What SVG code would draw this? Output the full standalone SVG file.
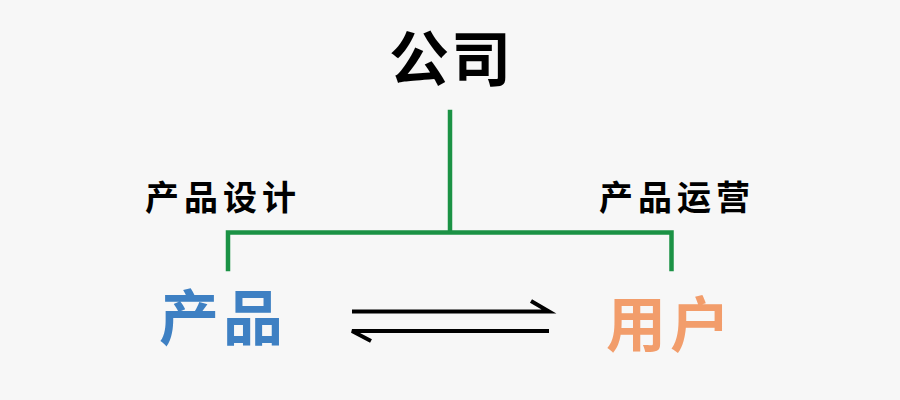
<svg xmlns="http://www.w3.org/2000/svg" width="900" height="400" viewBox="0 0 900 400">
<style>
.t{font-family:"Noto Sans CJK SC","Noto Sans",sans-serif;font-weight:bold;text-anchor:middle}
.g{stroke:#1b9245;stroke-width:4.5;fill:none;stroke-linecap:square}
.a{stroke:#000;stroke-width:4;fill:none}
</style>
<rect width="900" height="400" fill="#f7f7f7"/>
<g id="connectors">
<path class="g" d="M450 112 V232.5 M228 269 V232.5 H671.5 V269"/>
<path class="a" d="M352 311.5 H549 L531 301"/>
<path class="a" d="M549 331 H352 L371 341"/>
</g>
<g id="company"><text class="t" x="451" y="81" font-size="60" letter-spacing="2" fill="#000">公司</text></g>
<g id="label-design"><text class="t" x="223" y="210" font-size="34" letter-spacing="5" fill="#000">产品设计</text></g>
<g id="label-ops"><text class="t" x="677" y="210" font-size="34" letter-spacing="5" fill="#000">产品运营</text></g>
<g id="product"><text class="t" x="223" y="340" font-size="60" letter-spacing="4" fill="#3e80c3">产品</text></g>
<g id="user"><text class="t" x="670" y="347" font-size="60" letter-spacing="4" fill="#f29d6b">用户</text></g>
</svg>
